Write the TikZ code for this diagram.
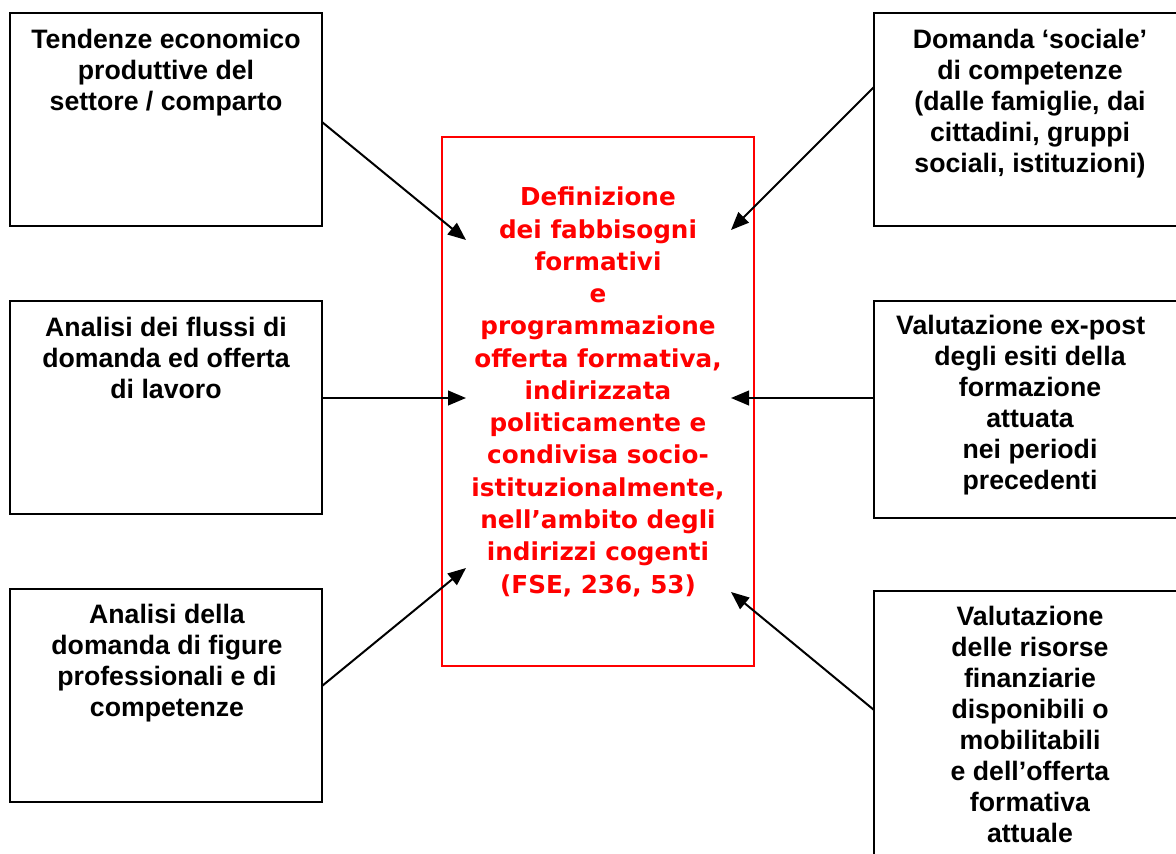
\documentclass[tikz,border=0pt]{standalone}
\usepackage{fontspec}
\newfontfamily\arialb{Liberation Sans}
\newfontfamily\verdb{DejaVu Sans}
\usetikzlibrary{arrows.meta}
\begin{document}
\begin{tikzpicture}[x=0.75pt,y=-0.75pt,
  sidebox/.style={draw=black,line width=1.5pt,inner sep=0pt},
  mainbox/.style={draw=red,line width=1.5pt,inner sep=0pt},
  sidetext/.style={align=center,inner sep=0pt,anchor=base,
    font=\arialb\bfseries\fontsize{20}{23.25}\selectfont},
  maintext/.style={align=center,inner sep=0pt,anchor=base,text=red,
    font=\verdb\bfseries\fontsize{18.5}{24.2}\selectfont},
  arr/.style={line width=1.5pt,-{Triangle[length=13.5pt,width=11pt]}}]
\useasboundingbox (0,0) rectangle (1176,853);
\clip (0,0) rectangle (1176,853);
% boxes
\draw[sidebox] (10,13) rectangle (322,226) node[pos=0.5,coordinate] (tl) {};
\draw[sidebox] (874,13) rectangle (1190,226) node[pos=0.5,coordinate] (tr) {};
\draw[sidebox] (10,301) rectangle (322,514) node[pos=0.5,coordinate] (ml) {};
\draw[sidebox] (874,301) rectangle (1190,518) node[pos=0.5,coordinate] (mr) {};
\draw[sidebox] (10,589) rectangle (322,802) node[pos=0.5,coordinate] (bl) {};
\draw[sidebox] (874,591) rectangle (1190,870) node[pos=0.5,coordinate] (br) {};
\draw[mainbox] (442,137) rectangle (754,666) node[pos=0.5,coordinate] (mid) {};
% texts (base anchor = baseline of the last line)
\node[sidetext] (tltext) at (166,110) {Tendenze economico\\produttive del\\settore / comparto};
\node[sidetext] (trtext) at (1030,172) {Domanda ‘sociale’\\di competenze\\(dalle famiglie, dai\\cittadini, gruppi\\sociali, istituzioni)};
\node[sidetext] (mltext) at (166,398) {Analisi dei flussi di\\domanda ed offerta\\di lavoro};
\node[sidetext] (mrtext) at (1030,489) {Valutazione ex-post\hspace*{14pt}\\degli esiti della\\formazione\\attuata\\nei periodi\\precedenti};
\node[sidetext] (bltext) at (167,716) {Analisi della\\domanda di figure\\professionali e di\\competenze};
\node[sidetext] (brtext) at (1030,842) {Valutazione\\delle risorse\\finanziarie\\disponibili o\\mobilitabili\\e dell’offerta\\formativa\\attuale};
\node[maintext] (midtext) at (598,593) {Definizione\\dei fabbisogni\\formativi\\e\\programmazione\\offerta formativa,\\indirizzata\\politicamente e\\condivisa socio-\\istituzionalmente,\\nell’ambito degli\\indirizzi cogenti\\(FSE, 236, 53)};
% connector ends
\coordinate (sTL) at (322,122);
\coordinate (eTL) at (466,240);
\coordinate (sTR) at (874,87);
\coordinate (eTR) at (731,230);
\coordinate (sML) at (322,398);
\coordinate (eML) at (466,398);
\coordinate (sMR) at (874,398);
\coordinate (eMR) at (731,398);
\coordinate (sBL) at (322,686);
\coordinate (eBL) at (466,568);
\coordinate (sBR) at (874,710);
\coordinate (eBR) at (731,592);
\draw[arr] (sTL) -- (eTL);
\draw[arr] (sTR) -- (eTR);
\draw[arr] (sML) -- (eML);
\draw[arr] (sMR) -- (eMR);
\draw[arr] (sBL) -- (eBL);
\draw[arr] (sBR) -- (eBR);
\end{tikzpicture}
\end{document}
